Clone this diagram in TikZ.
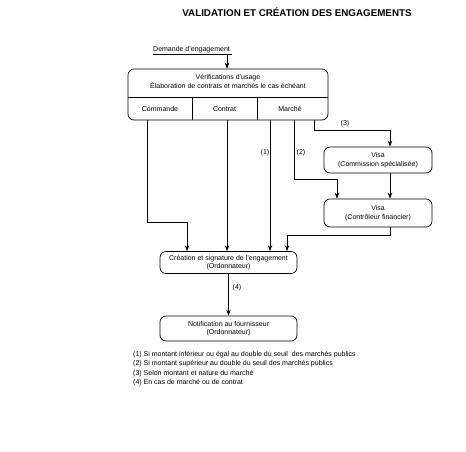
\documentclass[tikz,border=0pt]{standalone}
\usepackage{fontspec}
\setmainfont{Liberation Sans}
\usetikzlibrary{arrows.meta}
\tikzset{
  box/.style={draw, rounded corners=6pt, line width=0.7pt, inner sep=0pt, align=center, font=\fontsize{7}{8.4}\selectfont},
  lbl/.style={inner sep=0pt, font=\fontsize{7}{7.5}\selectfont},
  seg/.style={inner sep=0pt, anchor=base, font=\fontsize{7}{7.5}\selectfont},
  conn/.style={line width=0.7pt},
  arr/.style={line width=0.7pt, -{Stealth[length=6pt,width=4.5pt]}},
  note/.style={inner sep=0pt, anchor=west, font=\fontsize{7}{7.5}\selectfont}
}
\begin{document}
\begin{tikzpicture}[x=1pt,y=-1pt]
\useasboundingbox (0,0) rectangle (466,451);
% title
\node[inner sep=0pt, font=\bfseries\fontsize{9.8}{11}\selectfont] (title) at (297,12) {VALIDATION ET CRÉATION DES ENGAGEMENTS};
% demande
\node[lbl, anchor=base west] (dem) at (153,51) {Demande d'engagement};
\coordinate (ul1) at (153,54);
\coordinate (ul2) at (232,54);
\draw[conn] (ul1) -- (ul2);
\coordinate (dema) at (227,54);
% main box
\node[box, minimum width=200pt, minimum height=51pt] (main) at (228,94.5) {};
\node[lbl, align=center, font=\fontsize{7}{8.2}\selectfont] (mtxt) at (228,81.5) {Vérifications d'usage\\Élaboration de contrats et marchés le cas échéant};
\coordinate (hl) at (128,97);
\coordinate (hr) at (328,97);
\draw[conn] (hl) -- (hr);
\coordinate (v1) at (192,97);
\coordinate (v2) at (257,97);
\draw[conn] (v1) -- (v1 |- main.south);
\draw[conn] (v2) -- (v2 |- main.south);
\node[seg] (cmd) at (160,111) {Commande};
\node[seg] (ctr) at (224.5,111) {Contrat};
\node[seg] (mar) at (290,111) {Marché};
\draw[arr] (dema) -- (dema |- main.north);
% visa boxes
\node[box, minimum width=108pt, minimum height=26pt] (cs) at (378,160) {Visa\\(Commission spécialisée)};
\node[box, minimum width=108pt, minimum height=28pt] (cf) at (378,213) {Visa\\(Contrôleur financier)};
% creation & notification
\node[box, minimum width=137pt, minimum height=22pt] (cre) at (228.5,262.5) {Création et signature de l'engagement\\(Ordonnateur)};
\node[box, minimum width=137pt, minimum height=25pt] (notif) at (228.5,328.5) {Notification au fournisseur\\(Ordonnateur)};
% connectors
\coordinate (a1) at (147,120);
\coordinate (a1b) at (147,222);
\coordinate (a1c) at (187,222);
\draw[arr] (a1) -- (a1b) -- (a1c) -- (a1c |- cre.north);
\coordinate (a2) at (227,120);
\draw[arr] (a2) -- (a2 |- cre.north);
\coordinate (a3) at (270,120);
\draw[arr] (a3) -- (a3 |- cre.north);
\node[lbl] (l1) at (265,153) {(1)};
\coordinate (a4) at (294,120);
\coordinate (a4b) at (294,179);
\coordinate (a4c) at (337,179);
\draw[arr] (a4) -- (a4b) -- (a4c) -- (a4c |- cf.north);
\node[lbl] (l2) at (301,153) {(2)};
\coordinate (a5) at (314,120);
\coordinate (a5b) at (314,130);
\coordinate (a5c) at (390,130);
\draw[arr] (a5) -- (a5b) -- (a5c) -- (a5c |- cs.north);
\node[lbl] (l3) at (345,123.5) {(3)};
\coordinate (a6) at (390,173);
\draw[arr] (a6 |- cs.south) -- (a6 |- cf.north);
\coordinate (a7) at (390,235);
\coordinate (a7b) at (287,235);
\draw[arr] (a7 |- cf.south) -- (a7) -- (a7b) -- (a7b |- cre.north);
\draw[arr] (cre.south) -- (notif.north);
\node[lbl] (l4) at (237,288) {(4)};
% notes
\node[note] (n1) at (133,355) {(1) Si montant inférieur ou égal au double du seuil\ \ des marchés publics};
\node[note] (n2) at (133,364) {(2) Si montant supérieur au double du seuil des marchés publics};
\node[note] (n3) at (133,373.5) {(3) Selon montant et nature du marché};
\node[note] (n4) at (133,382.5) {(4) En cas de marché ou de contrat};
\end{tikzpicture}
\end{document}
